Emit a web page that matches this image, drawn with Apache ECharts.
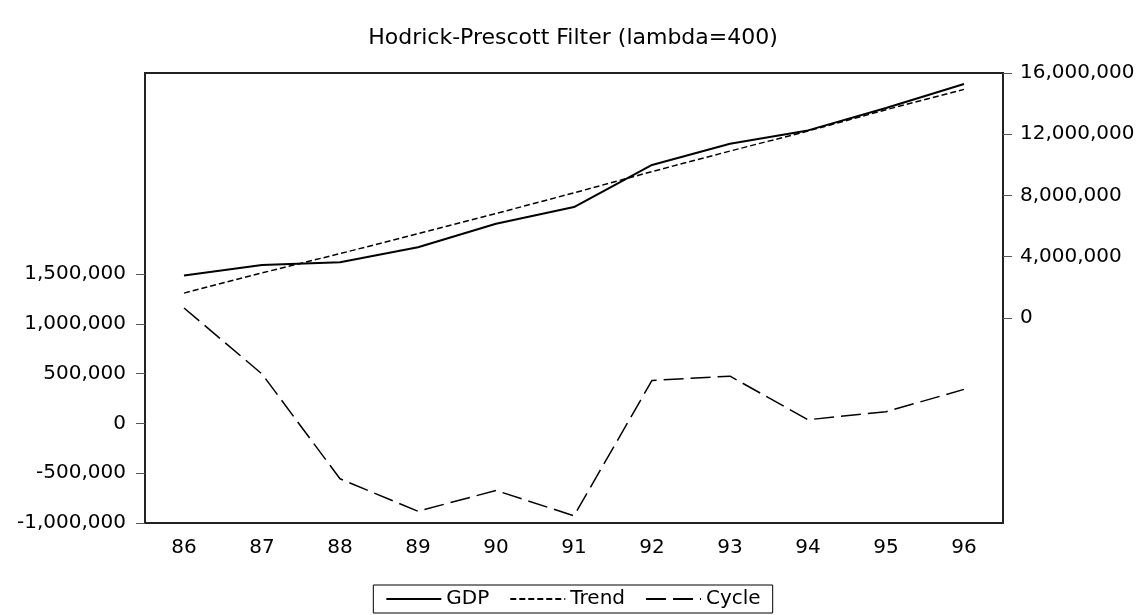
<!DOCTYPE html>
<html>
<head>
<meta charset="utf-8">
<script src="https://cdn.jsdelivr.net/npm/echarts@6/dist/echarts.min.js"></script>
<style>html,body{margin:0;padding:0;background:#fff}#c{width:1146px;height:615px}</style>
</head>
<body>
<div id="c"></div>
<script>
var years = ['86','87','88','89','90','91','92','93','94','95','96'];
var gdp   = [2770000, 3450000, 3640000, 4620000, 6150000, 7240000, 9990000, 11380000, 12250000, 13710000, 15280000];
var trend = [1620000, 2940000, 4200000, 5500000, 6820000, 8170000, 9560000, 10900000, 12210000, 13600000, 14930000];
var cycle = [1160000, 497000, -556000, -882000, -673000, -928000, 432000, 475000, 37000, 118000, 342000];
var leftTicks  = [-1000000, -500000, 0, 500000, 1000000, 1500000];
var rightTicks = [0, 4000000, 8000000, 12000000, 16000000];

function fmt(v){ return v.toLocaleString('en-US'); }
var FONT = 'DejaVu Sans';
var chart = echarts.init(document.getElementById('c'), null, {renderer:'canvas'});
chart.setOption({
  animation:false,
  backgroundColor:'#fff',
  textStyle:{fontFamily:FONT},
  title:{text:'Hodrick-Prescott Filter (lambda=400)', left:'center', top:22,
    textStyle:{fontFamily:FONT, fontSize:22, fontWeight:'normal', color:'#000'}},
  grid:{left:145, right:143, top:73, bottom:92, show:true, borderColor:'#222', borderWidth:2, backgroundColor:'#fff'},
  legend:{bottom:2, left:'center', data:['GDP','Trend','Cycle'],
    borderColor:'#000', borderWidth:1, padding:[4,12,4,12], itemGap:20, itemWidth:55, itemHeight:12,
    itemStyle:{color:'transparent', borderWidth:0, opacity:0},
    textStyle:{fontFamily:FONT, fontSize:20, color:'#000'}},
  xAxis:{type:'category', data:years, boundaryGap:true,
    axisLine:{onZero:false, lineStyle:{color:'#222', width:2}},
    axisTick:{length:9, lineStyle:{color:'#555', width:1}},
    axisLabel:{color:'#000', fontSize:20, fontFamily:FONT, margin:15}},
  yAxis:[
    {type:'value', position:'left', min:-1000000, max:3520000, interval:500000,
     splitLine:{show:false},
     axisLine:{show:true, onZero:false, lineStyle:{color:'#222', width:2}},
     axisTick:{show:true, length:9, customValues:leftTicks, lineStyle:{color:'#555'}},
     axisLabel:{color:'#000', fontSize:20, fontFamily:FONT, margin:19, customValues:leftTicks, formatter:fmt}},
    {type:'value', position:'right', min:-13400000, max:16000000, interval:4000000,
     splitLine:{show:false},
     axisLine:{show:true, onZero:false, lineStyle:{color:'#222', width:2}},
     axisTick:{show:true, length:9, customValues:rightTicks, lineStyle:{color:'#555'}},
     axisLabel:{color:'#000', fontSize:20, fontFamily:FONT, margin:17, customValues:rightTicks, formatter:fmt}}
  ],
  series:[
    {name:'GDP', type:'line', yAxisIndex:1, data:gdp, symbol:'none',
     lineStyle:{color:'#000', width:2, type:'solid'}, itemStyle:{color:'#000'}},
    {name:'Trend', type:'line', yAxisIndex:1, data:trend, symbol:'none',
     lineStyle:{color:'#000', width:1.5, type:[6,3]}, itemStyle:{color:'#000'}},
    {name:'Cycle', type:'line', yAxisIndex:0, data:cycle, symbol:'none',
     lineStyle:{color:'#000', width:1.5, type:[20,7]}, itemStyle:{color:'#000'}}
  ]
});
</script>
</body>
</html>
